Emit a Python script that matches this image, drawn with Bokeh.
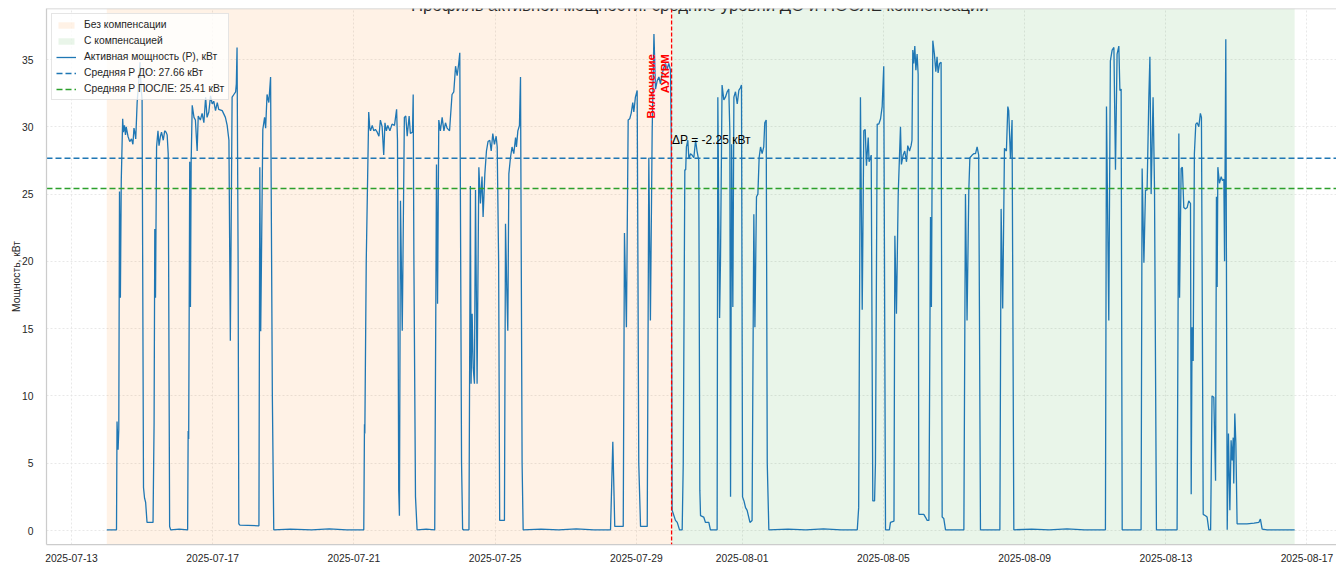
import numpy as np
import pandas as pd
from math import pi
from bokeh.plotting import figure
from bokeh.models import Range1d, Span, Label, FixedTicker, DatetimeTickFormatter
from bokeh.embed import file_html
from bokeh.resources import INLINE

# ---------------- data ----------------
START_DATE = "2025-07-13"          # day 0 of the offsets below
SWITCH_DAY = 17.0                  # 2025-07-30 00:00  -> "Включение АУКРМ"
DATA_START_DAY = 1.0
DATA_END_DAY = 34.65
MEAN_BEFORE = 27.66
MEAN_AFTER = 25.41

# day offset from START_DATE, active power in kW
days = [
    1.0, 1.275, 1.29, 1.32, 1.34, 1.36, 1.385, 1.41, 1.45, 1.47, 1.50, 1.53, 1.55, 1.60, 1.65, 1.70,
    1.74, 1.77, 1.80, 1.82, 1.86, 1.88, 1.91, 1.94, 1.97, 2.00, 2.04, 2.07, 2.10, 2.14, 2.31, 2.34,
    2.36, 2.38, 2.41, 2.45, 2.48, 2.52, 2.55, 2.60, 2.64, 2.68, 2.71, 2.74, 2.78, 2.81, 3.05, 3.29,
    3.305, 3.32, 3.35, 3.37, 3.39, 3.42, 3.47, 3.51, 3.56, 3.59, 3.65, 3.70, 3.75, 3.80, 3.84, 3.89,
    3.94, 3.985, 4.03, 4.08, 4.13, 4.17, 4.27, 4.36, 4.41, 4.46, 4.50, 4.55, 4.60, 4.65, 4.67, 4.69,
    4.72, 4.74, 4.77, 5.31, 5.335, 5.36, 5.42, 5.47, 5.50, 5.54, 5.59, 5.64, 5.69, 5.73, 6.2, 6.8,
    7.3, 7.8, 8.28,
    8.30, 8.31, 8.35, 8.42, 8.45, 8.47, 8.52, 8.565, 8.61, 8.66, 8.71, 8.75, 8.80, 8.845, 8.88, 8.92,
    8.96, 9.02, 9.08, 9.15, 9.21, 9.235, 9.27, 9.29, 9.32, 9.37, 9.43, 9.47, 9.51, 9.565, 9.60, 9.66,
    9.68, 9.70, 9.745, 9.79, 10.05, 10.29, 10.34, 10.37, 10.405, 10.45, 10.50, 10.55, 10.595, 10.64,
    10.71, 10.78, 10.83, 10.88, 10.925, 10.97, 11.00, 11.05, 11.08, 11.11, 11.26, 11.30, 11.32, 11.35,
    11.38, 11.415, 11.445, 11.49, 11.54, 11.585, 11.63, 11.66, 11.71, 11.755, 11.80, 11.85, 11.89,
    11.935, 11.98, 12.03, 12.06, 12.10, 12.13,
    12.265, 12.295, 12.33, 12.36, 12.39, 12.435, 12.48, 12.53, 12.58, 12.605, 12.645, 12.69, 12.72,
    12.765, 12.795, 13.3, 13.8, 14.3, 14.8, 15.27, 15.335, 15.39, 15.63, 15.665, 15.72, 15.77, 15.815,
    15.855, 15.90, 15.93, 15.975, 16.025, 16.07, 16.12, 16.31, 16.355, 16.40, 16.45, 16.50, 16.545,
    16.59, 16.64, 16.685, 16.73, 16.78, 16.825, 16.875, 16.92, 16.97, 16.99,
    17.015, 17.11, 17.16, 17.225, 17.30, 17.33, 17.375, 17.40, 17.42, 17.46, 17.49, 17.535, 17.58,
    17.63, 17.68, 17.72, 17.77, 17.80, 17.82, 17.91, 17.96, 18.055, 18.10, 18.29, 18.31, 18.36,
    18.385, 18.43, 18.48, 18.525, 18.575, 18.62, 18.65, 18.67, 18.70, 18.735, 18.765, 18.81, 18.86,
    18.905, 18.95, 18.98, 19.01, 19.05, 19.095, 19.14, 19.22, 19.28, 19.33, 19.36, 19.405, 19.445,
    19.48, 19.52, 19.565, 19.61, 19.64, 19.68, 19.71, 19.755, 20.3, 20.8, 21.3, 21.8, 22.26, 22.30,
    22.35, 22.40, 22.445, 22.485, 22.52, 22.57, 22.595, 22.635, 22.655, 22.70, 22.75, 22.775, 22.825,
    22.87, 22.92, 22.965, 23.01, 23.06, 23.17, 23.20, 23.30, 23.325, 23.37, 23.42,
    23.484, 23.51, 23.56, 23.605, 23.655, 23.69, 23.74, 23.785, 23.81, 23.833, 23.86, 23.89, 23.92,
    23.955, 23.985, 24.003, 24.145, 24.19, 24.24, 24.29, 24.335, 24.36, 24.40, 24.445, 24.485, 24.52,
    24.55, 24.59, 24.635, 24.665, 24.71, 24.76, 25.28, 25.325, 25.37, 25.42, 25.45, 25.515, 25.56,
    25.61, 25.655, 25.70, 25.75, 26.30, 26.335, 26.38, 26.43, 26.485, 26.525, 26.55, 26.60, 26.645,
    26.695, 27.2, 27.7, 28.2, 28.7,
    29.29, 29.32, 29.385, 29.43, 29.48, 29.53, 29.575, 29.62, 29.67, 29.70, 29.735, 29.765, 30.30,
    30.33, 30.38, 30.425, 30.47, 30.52, 30.55, 30.585, 30.64, 30.68, 30.735, 31.32, 31.37, 31.39,
    31.435, 31.47, 31.51, 31.56, 31.605, 31.65, 31.70, 31.72, 31.745, 31.775, 31.81, 31.85, 31.89,
    31.935, 31.98, 32.01, 32.06, 32.125, 32.17, 32.22, 32.27, 32.31, 32.36, 32.41, 32.435, 32.455,
    32.475, 32.52, 32.57, 32.605, 32.645, 32.665, 32.70, 32.74, 32.775, 32.815, 32.85, 32.88, 32.91,
    32.925, 32.955, 32.985, 33.02, 33.30, 33.50, 33.635, 33.68, 33.73, 33.87, 34.65,
]
power_kw = [
    0.05, 0.05, 8.1, 6.0, 7.5, 25.2, 17.3, 26.0, 30.6, 29.6, 30.1, 29.4, 30.0, 29.3, 28.9, 29.1,
    28.7, 29.9, 29.5, 29.1, 31.8, 32.5, 33.5, 34.8, 33.0, 32.0, 3.2, 2.4, 2.1, 0.6, 0.6, 8.0,
    22.4, 17.3, 28.5, 29.7, 28.6, 29.3, 29.6, 29.0, 29.7, 29.6, 29.4, 28.0, 0.3, 0.05, 0.1, 0.05,
    7.4, 6.8, 27.4, 16.6, 27.4, 31.6, 30.7, 30.5, 28.2, 30.8, 30.5, 31.0, 30.3, 32.2, 30.7, 31.1,
    32.3, 31.7, 31.9, 31.2, 31.8, 31.3, 31.2, 30.7, 30.1, 29.0, 14.1, 32.2, 32.4, 32.6, 33.2, 35.9,
    20.0, 0.5, 0.4, 0.35, 27.0, 14.8, 29.8, 30.7, 29.9, 32.4, 31.8, 33.7, 10.0, 0.05, 0.1, 0.05,
    0.12, 0.05, 0.05,
    7.9, 7.2, 20.0, 31.1, 29.9, 29.7, 30.1, 29.7, 29.8, 29.6, 29.3, 30.5, 30.0, 27.9, 30.3, 29.7,
    30.1, 29.7, 30.2, 30.1, 31.3, 29.0, 3.0, 1.1, 24.5, 14.85, 30.7, 30.8, 29.3, 30.8, 29.5, 29.6,
    32.4, 20.0, 2.5, 0.05, 0.1, 0.05, 27.2, 16.85, 30.5, 29.7, 30.7, 29.7, 30.3, 29.9,
    29.7, 32.4, 32.6, 34.5, 33.8, 34.7, 35.5, 5.0, 0.1, 0.05, 0.05, 25.6, 10.9, 16.1,
    12.1, 10.9, 25.3, 10.9, 27.0, 24.3, 26.3, 23.3, 26.5, 28.2, 28.9, 29.0, 28.2,
    29.5, 28.7, 29.3, 28.5, 20.0, 0.75,
    0.75, 22.8, 18.0, 14.85, 26.5, 27.7, 28.5, 28.0, 29.2, 28.5, 29.7, 30.1, 33.7,
    5.0, 0.05, 0.1, 0.05, 0.12, 0.05, 0.05, 6.6, 0.3, 0.3, 22.1, 15.1, 30.5, 30.6,
    31.0, 31.8, 31.1, 32.2, 32.7, 5.0, 0.3, 0.3, 27.7, 15.6, 29.7, 36.9, 32.8,
    33.4, 33.7, 33.2, 33.9, 34.4, 34.7, 34.3, 34.7, 34.2, 29.2,
    1.5, 0.75, 0.6, 0.05, 0.05, 4.95, 26.8, 26.8, 28.5, 29.0, 27.6, 28.0, 27.9,
    27.7, 29.0, 28.2, 27.5, 3.0, 1.1, 1.0, 0.6, 0.6, 0.05, 0.05, 32.2, 15.8,
    20.0, 33.1, 32.0, 32.2, 32.6, 32.8, 29.7, 2.5, 28.7, 16.6, 32.2, 32.6, 31.7,
    32.7, 32.9, 33.1, 2.5, 2.2, 1.7, 1.5, 0.6, 0.75, 23.5, 15.1, 24.8, 25.0,
    27.7, 28.5, 28.0, 28.5, 30.3, 30.5, 5.0, 0.05, 0.1, 0.05, 0.12, 0.05, 0.05, 1.7,
    32.2, 16.4, 29.7, 29.8, 27.1, 29.2, 27.4, 27.7, 27.9, 2.2, 2.2, 5.0, 30.2,
    30.2, 30.6, 31.5, 34.5, 0.05, 0.05, 0.6, 0.7, 21.9, 16.1, 25.0,
    30.0, 27.2, 27.9, 28.2, 27.4, 28.6, 28.2, 28.6, 29.0, 35.7, 34.7, 36.0, 34.2,
    35.4, 33.9, 1.2, 1.2, 1.0, 0.75, 0.75, 23.3, 16.6, 36.4, 35.4, 34.1, 35.2,
    34.0, 34.7, 34.8, 1.0, 0.9, 0.05, 0.05, 25.0, 15.6, 25.3, 27.7, 27.9, 28.0,
    28.0, 28.5, 27.9, 0.05, 0.05, 23.9, 16.5, 28.4, 28.2, 31.5, 31.2, 27.6, 30.5,
    0.05, 0.1, 0.05, 0.12, 0.05,
    0.05, 31.5, 15.6, 34.9, 35.7, 35.9, 26.8, 35.4, 36.0, 32.7, 32.8, 0.05, 0.05,
    26.9, 19.9, 25.3, 25.3, 32.2, 35.2, 25.0, 32.2, 25.5, 0.05, 0.05, 29.5, 17.3,
    26.9, 27.0, 24.0, 23.9, 24.0, 24.5, 24.3, 2.7, 15.1, 12.6, 28.0, 30.2, 30.3,
    30.0, 31.0, 30.7, 1.2, 1.1, 1.0, 0.05, 0.05, 10.0, 9.9, 3.7, 24.8, 18.1,
    27.0, 25.8, 26.3, 26.0, 26.1, 20.0, 36.5, 0.05, 7.2, 1.5, 6.7, 5.2, 6.9,
    3.5, 8.7, 6.5, 0.5, 0.5, 0.55, 0.6, 0.85, 0.1, 0.05, 0.05,
]

x_tick_labels = ["2025-07-13", "2025-07-17", "2025-07-21", "2025-07-25", "2025-07-29",
                 "2025-08-01", "2025-08-05", "2025-08-09", "2025-08-13", "2025-08-17"]
y_ticks = [0, 5, 10, 15, 20, 25, 30, 35]

TITLE = "Профиль активной мощности: средние уровни ДО и ПОСЛЕ компенсации"
Y_LABEL = "Мощность, кВт"

# ---------------- helpers ----------------
DAY_MS = 86400000.0
BASE_MS = pd.Timestamp(START_DATE).value / 1e6


def to_ms(d):
    return float(BASE_MS + float(d) * DAY_MS)


X_LO, X_HI = -0.708, 35.836
Y_LO, Y_HI = -1.04, 38.79
TITLE_CENTER_DAY = 17.8
FONT = "Liberation Sans"
TXT = "#262626"
SPINE = "#cccccc"

x_ms = [to_ms(d) for d in days]
switch_ms = to_ms(SWITCH_DAY)

p = figure(width=1336, height=564, x_axis_type="datetime",
           x_range=Range1d(to_ms(X_LO), to_ms(X_HI)),
           y_range=Range1d(Y_LO, Y_HI),
           output_backend="svg", toolbar_location=None, title=None,
           min_border_left=46, min_border_right=0, min_border_top=8, min_border_bottom=20)

p.background_fill_color = "white"
p.border_fill_color = "white"
p.outline_line_color = None

# shaded periods
p.quad(left=[to_ms(DATA_START_DAY)], right=[switch_ms], bottom=[Y_LO], top=[Y_HI],
       fill_color="#ff7f0e", fill_alpha=0.1, line_color=None, legend_label="Без компенсации")
p.quad(left=[switch_ms], right=[to_ms(DATA_END_DAY)], bottom=[Y_LO], top=[Y_HI],
       fill_color="#2ca02c", fill_alpha=0.1, line_color=None, legend_label="С компенсацией")

# power line
p.line(x_ms, power_kw, line_color="#1f77b4", line_width=1.3,
       legend_label="Активная мощность (P), кВт")

# mean lines
x_full = [to_ms(X_LO), to_ms(X_HI)]
p.line(x_full, [MEAN_BEFORE, MEAN_BEFORE], line_color="#1f77b4", line_width=1.6,
       line_dash="6 3", legend_label=f"Средняя P ДО: {MEAN_BEFORE:.2f} кВт")
p.line(x_full, [MEAN_AFTER, MEAN_AFTER], line_color="#2ca02c", line_width=1.6,
       line_dash="6 3", legend_label=f"Средняя P ПОСЛЕ: {MEAN_AFTER:.2f} кВт")

# switch line
p.add_layout(Span(location=switch_ms, dimension="height", line_color="red",
                  line_width=1.3, line_dash="4 2"))

p.add_layout(Label(x=switch_ms, y=35.4, x_offset=-20.5, text="Включение", angle=pi / 2,
                   text_align="right", text_baseline="middle", text_color="red",
                   text_font=FONT, text_font_style="bold", text_font_size="11.5px"))
p.add_layout(Label(x=switch_ms, y=35.4, x_offset=-7, text="АУКРМ", angle=pi / 2,
                   text_align="right", text_baseline="middle", text_color="red",
                   text_font=FONT, text_font_style="bold", text_font_size="11.5px"))

p.add_layout(Label(x=switch_ms, y=29.05, x_offset=0.5,
                   text=f"ΔP = {MEAN_AFTER - MEAN_BEFORE:.2f} кВт",
                   text_align="left", text_baseline="alphabetic", text_color="black",
                   text_font=FONT, text_font_size="12px"))

# title (cut off at the top edge, as in the reference)
p.add_layout(Label(x=to_ms(TITLE_CENTER_DAY), y=Y_HI + 0.223, text=TITLE,
                   text_align="center", text_baseline="alphabetic", text_color=TXT,
                   text_font=FONT, text_font_size="16.8px"))

# top spine
p.add_layout(Span(location=Y_HI, dimension="width", line_color=SPINE, line_width=1.25))

# axes
tick_ms = [pd.Timestamp(s).value / 1e6 for s in x_tick_labels]
p.xaxis.ticker = FixedTicker(ticks=tick_ms)
fmt = "%Y-%m-%d"
p.xaxis.formatter = DatetimeTickFormatter(milliseconds=fmt, seconds=fmt, minsec=fmt, minutes=fmt,
                                          hourmin=fmt, hours=fmt, days=fmt, months=fmt, years=fmt)
p.yaxis.ticker = FixedTicker(ticks=y_ticks)
p.yaxis.axis_label = Y_LABEL

for ax in (p.xaxis[0], p.yaxis[0]):
    ax.axis_line_color = SPINE
    ax.axis_line_width = 1.25
    ax.major_tick_line_color = None
    ax.minor_tick_line_color = None
    ax.major_label_text_font = FONT
    ax.major_label_text_font_size = "10.3px"
    ax.major_label_text_color = TXT
    ax.axis_label_text_font = FONT
    ax.axis_label_text_font_size = "10.3px"
    ax.axis_label_text_font_style = "normal"
    ax.axis_label_text_color = TXT
p.xaxis.major_label_standoff = 3
p.yaxis.major_label_standoff = 7
p.yaxis.axis_label_standoff = -3

for g in (p.xgrid[0], p.ygrid[0]):
    g.grid_line_color = "#e2e2e2"
    g.grid_line_dash = "2 2"
    g.grid_line_width = 0.8

# legend
lg = p.legend[0]
lg.location = "top_left"
lg.margin = 5
lg.padding = 4
lg.spacing = 3
lg.glyph_width = 20
lg.glyph_height = 8
lg.label_height = 13
lg.label_standoff = 8
lg.label_text_font = FONT
lg.label_text_font_size = "10.3px"
lg.label_text_color = TXT
lg.border_line_color = SPINE
lg.border_line_width = 1
lg.background_fill_alpha = 0.8

open("out.html", "w").write(file_html(p, INLINE))
